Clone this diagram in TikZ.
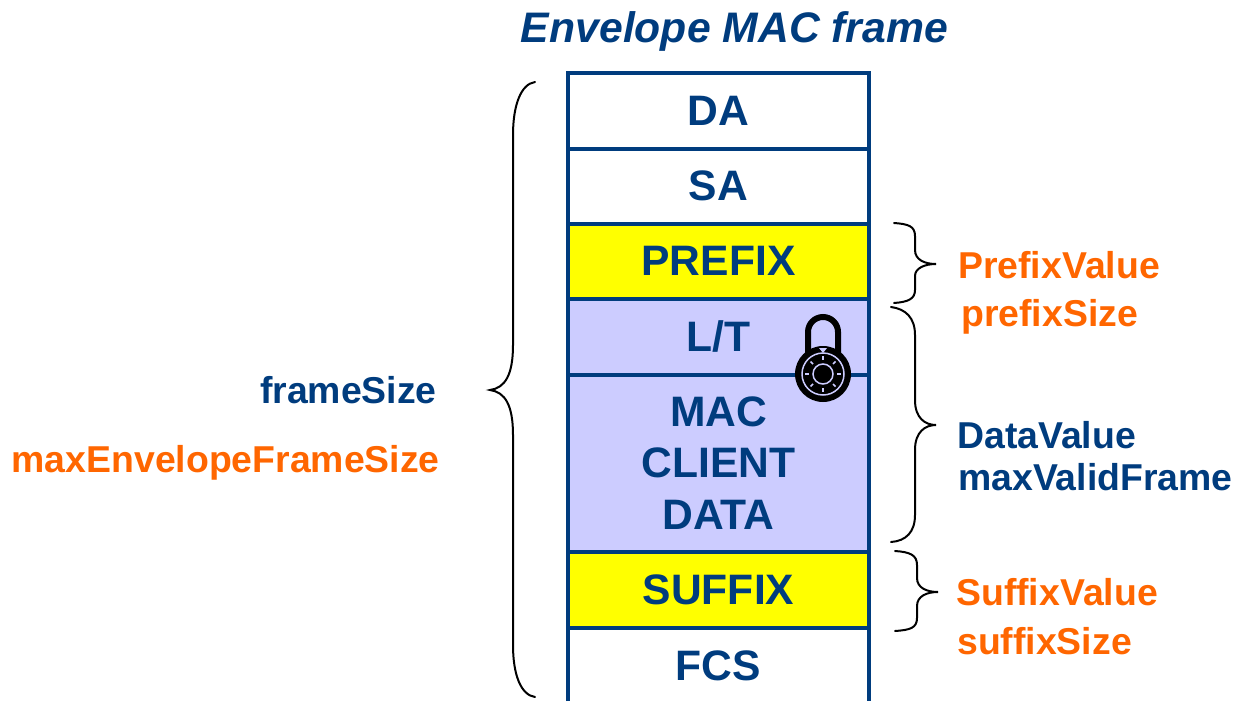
\documentclass[tikz,border=0pt]{standalone}
\usepackage{fontspec}
\setmainfont{Liberation Sans}
\usepackage{tikz}
\definecolor{framebluec}{HTML}{003C7E}
\definecolor{labelorange}{HTML}{FF6600}
\definecolor{datafill}{HTML}{CCCCFF}
\definecolor{paddingfill}{HTML}{FFFF00}
\tikzset{field/.style={draw=framebluec,line width=3.2pt},
  fieldtext/.style={text=framebluec,inner sep=0pt,align=center,font=\fontsize{42.6}{52}\selectfont\bfseries},
  bluelabel/.style={text=framebluec,inner sep=0pt,font=\fontsize{37.4}{40}\selectfont\bfseries},
  orangelabel/.style={text=labelorange,inner sep=0pt,font=\fontsize{37.4}{40}\selectfont\bfseries},
  bracket/.style={draw=black,line width=2pt,line cap=round},
  dialline/.style={draw=datafill,line width=1.5pt}}

\begin{document}
\begin{tikzpicture}[x=1pt,y=-1pt]
    \useasboundingbox (0,0) rectangle (1238,701);

    % title
    \node[inner sep=0pt,anchor=base,text=framebluec,font=\fontsize{42.7}{40}\selectfont\bfseries\itshape] (title) at (734.5,42) {Envelope MAC frame};

    % frame fields
    \fill[datafill] (568,299) rectangle (869,552);
    \fill[paddingfill] (568,224) rectangle (869,299);
    \fill[paddingfill] (568,552) rectangle (869,628);
    \draw[field] (568,701) -- (568,73) -- (869,73) -- (869,701);
    \draw[field] (568,149) -- (869,149);
    \draw[field] (568,224) -- (869,224);
    \draw[field] (568,299) -- (869,299);
    \draw[field] (568,375) -- (869,375);
    \draw[field] (568,552) -- (869,552);
    \draw[field] (568,628) -- (869,628);

    % field names
    \node[fieldtext,anchor=base] (da) at (718.5,125) {DA};
    \node[fieldtext,anchor=base] (sa) at (718.5,200) {SA};
    \node[fieldtext,anchor=base] (prefix) at (718.5,275) {PREFIX};
    \node[fieldtext,anchor=base] (lt) at (718.5,351) {L/T};
    \node[fieldtext,anchor=base] (mac) at (718.5,426) {MAC};
    \node[fieldtext,anchor=base] (client) at (718.5,477) {CLIENT};
    \node[fieldtext,anchor=base] (data) at (718.5,529) {DATA};
    \node[fieldtext,anchor=base] (suffix) at (718.5,604) {SUFFIX};
    \node[fieldtext,anchor=base] (fcs) at (718.5,680) {FCS};

    % lock
    \draw[black,line width=6pt] (808,355) -- (808,332) arc [start angle=180, end angle=360, radius=15] -- (838,355);
    \fill[black] (823,374) circle [radius=28];
    \draw[dialline] (823,374) circle [radius=21];
    \draw[dialline] (823,374) circle [radius=10];
    \draw[dialline] (823,356) -- (823,360);
    \draw[dialline] (823,388) -- (823,392);
    \draw[dialline] (805,374) -- (809,374);
    \draw[dialline] (837,374) -- (841,374);
    \draw[dialline] (810.5,361.5) -- (813,364);
    \draw[dialline] (835.5,361.5) -- (833,364);
    \draw[dialline] (810.5,386.5) -- (813,384);
    \draw[dialline] (835.5,386.5) -- (833,384);
    \fill[datafill] (819,348) -- (827,348) -- (823,353) -- cycle;

    % big brace
    \draw[bracket] (535,82) .. controls (521,84) and (513,105) .. (513,135) -- (513,345) .. controls (513,375) and (505,388) .. (490,390) .. controls (505,392) and (513,405) .. (513,435) -- (513,645) .. controls (513,675) and (521,695) .. (535,697);

    % prefix brace
    \draw[bracket] (894,223) .. controls (908,224) and (915,226) .. (915,236) -- (915,250) .. controls (915,260) and (925,264) .. (936,264) .. controls (925,264) and (915,268) .. (915,276) -- (915,290) .. controls (915,299) and (908,302) .. (894,303);

    % data brace
    \draw[bracket] (891,307) .. controls (906,309) and (915,318) .. (915,335) -- (915,400) .. controls (915,418) and (925,425) .. (936,425) .. controls (925,425) and (915,432) .. (915,450) -- (915,515) .. controls (915,532) and (906,541) .. (891,542);

    % suffix brace
    \draw[bracket] (895,551) .. controls (910,552) and (917,555) .. (917,565) -- (917,578) .. controls (917,588) and (927,592) .. (938,592) .. controls (927,592) and (917,596) .. (917,606) -- (917,618) .. controls (917,628) and (910,630) .. (895,631);

    % labels
    \node[bluelabel,anchor=base east] (framesize) at (437,403) {frameSize};
    \node[orangelabel,anchor=base east] (maxenvelope) at (440,472) {maxEnvelopeFrameSize};
    \node[orangelabel,anchor=base west] (prefixvalue) at (958,278) {PrefixValue};
    \node[orangelabel,anchor=base west] (prefixsize) at (961,326) {prefixSize};
    \node[bluelabel,anchor=base west] (datavalue) at (957,448) {DataValue};
    \node[bluelabel,anchor=base west] (maxvalid) at (958,490) {maxValidFrame};
    \node[orangelabel,anchor=base west] (suffixvalue) at (956,605) {SuffixValue};
    \node[orangelabel,anchor=base west] (suffixsize) at (957,654) {suffixSize};
\end{tikzpicture}
\end{document}
